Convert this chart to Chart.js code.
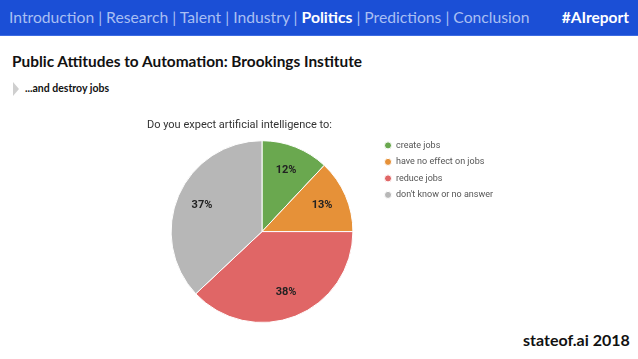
<!DOCTYPE html>
<html><head><meta charset="utf-8">
<script src="https://cdn.jsdelivr.net/npm/chart.js@4"></script>
<style>
html,body{margin:0;padding:0;background:#fff;width:638px;height:359px;overflow:hidden;font-family:Lato,"Open Sans",sans-serif;}
#hdr{position:absolute;left:0;top:0;width:638px;height:35px;background:#1b4fd6;border-bottom:1px solid #3d6be2;}
#nav{position:absolute;left:9px;top:8px;font-size:15.7px;color:#a9bff3;white-space:nowrap;}
#nav b{color:#fff;}
#tag{position:absolute;right:9px;top:8px;font-size:15.5px;color:#fff;font-weight:bold;}
#h1{position:absolute;left:12px;top:52px;font-size:15.4px;font-weight:bold;color:#111;white-space:nowrap;}
#sub{position:absolute;left:25px;top:82px;font-size:10.5px;font-weight:bold;color:#111;}
#tri{position:absolute;left:13px;top:82px;width:0;height:0;border-top:7px solid transparent;border-bottom:7px solid transparent;border-left:6px solid #cfcfcf;}
#foot{position:absolute;left:523px;top:330px;font-size:16px;font-weight:bold;color:#111;}
#wrap{position:absolute;left:147px;top:119px;width:356px;height:204px;}
</style></head>
<body>
<div id="hdr"><div id="nav">Introduction | Research | Talent | Industry | <b>Politics</b> | Predictions | Conclusion</div><div id="tag">#AIreport</div></div>
<div id="h1">Public Attitudes to Automation: Brookings Institute</div>
<div id="tri"></div><div id="sub">...and destroy jobs</div>
<div id="foot">stateof.ai 2018</div>
<div id="wrap"><canvas id="c"></canvas></div>
<script>
const chartTitle = "Do you expect artificial intelligence to:";
const categories = ["create jobs", "have no effect on jobs", "reduce jobs", "don't know or no answer"];
const values = [12, 13, 38, 37];
const colors = ["#6aa84f", "#e69138", "#e06666", "#b7b7b7"];

const pctLabels = {
  id: 'pctLabels',
  afterDatasetsDraw(chart) {
    const ctx = chart.ctx;
    const meta = chart.getDatasetMeta(0);
    const total = values.reduce((a, b) => a + b, 0);
    ctx.save();
    ctx.font = "bold 11px Roboto";
    ctx.fillStyle = "#222";
    ctx.textAlign = "center";
    ctx.textBaseline = "middle";
    meta.data.forEach((arc, i) => {
      const p = arc.getProps(['x','y','startAngle','endAngle','outerRadius'], true);
      const mid = (p.startAngle + p.endAngle) / 2;
      const r = p.outerRadius * 0.72;
      ctx.fillText(Math.round(values[i] / total * 100) + "%", p.x + Math.cos(mid) * r, p.y + Math.sin(mid) * r);
    });
    ctx.restore();
  }
};

new Chart(document.getElementById('c'), {
  type: 'pie',
  data: { labels: categories, datasets: [{ data: values, backgroundColor: colors, borderColor: '#fff', borderWidth: 1 }] },
  options: {
    responsive: true, maintainAspectRatio: false, animation: false,
    layout: { padding: 0 },
    plugins: {
      tooltip: { enabled: false },
      title: { display: true, text: chartTitle, align: 'start', color: '#333', font: { family: 'Roboto', size: 11, weight: 'normal' }, padding: { top: 0, bottom: 8 } },
      legend: {
        position: 'right', align: 'start',
        title: { display: true, text: '', font: { size: 12 }, padding: 0 },
        labels: { usePointStyle: true, pointStyle: 'circle', boxWidth: 7, boxHeight: 5, padding: 7.5, color: '#555', font: { family: 'Roboto', size: 9 } }
      }
    }
  },
  plugins: [pctLabels]
});
</script>
</body></html>
